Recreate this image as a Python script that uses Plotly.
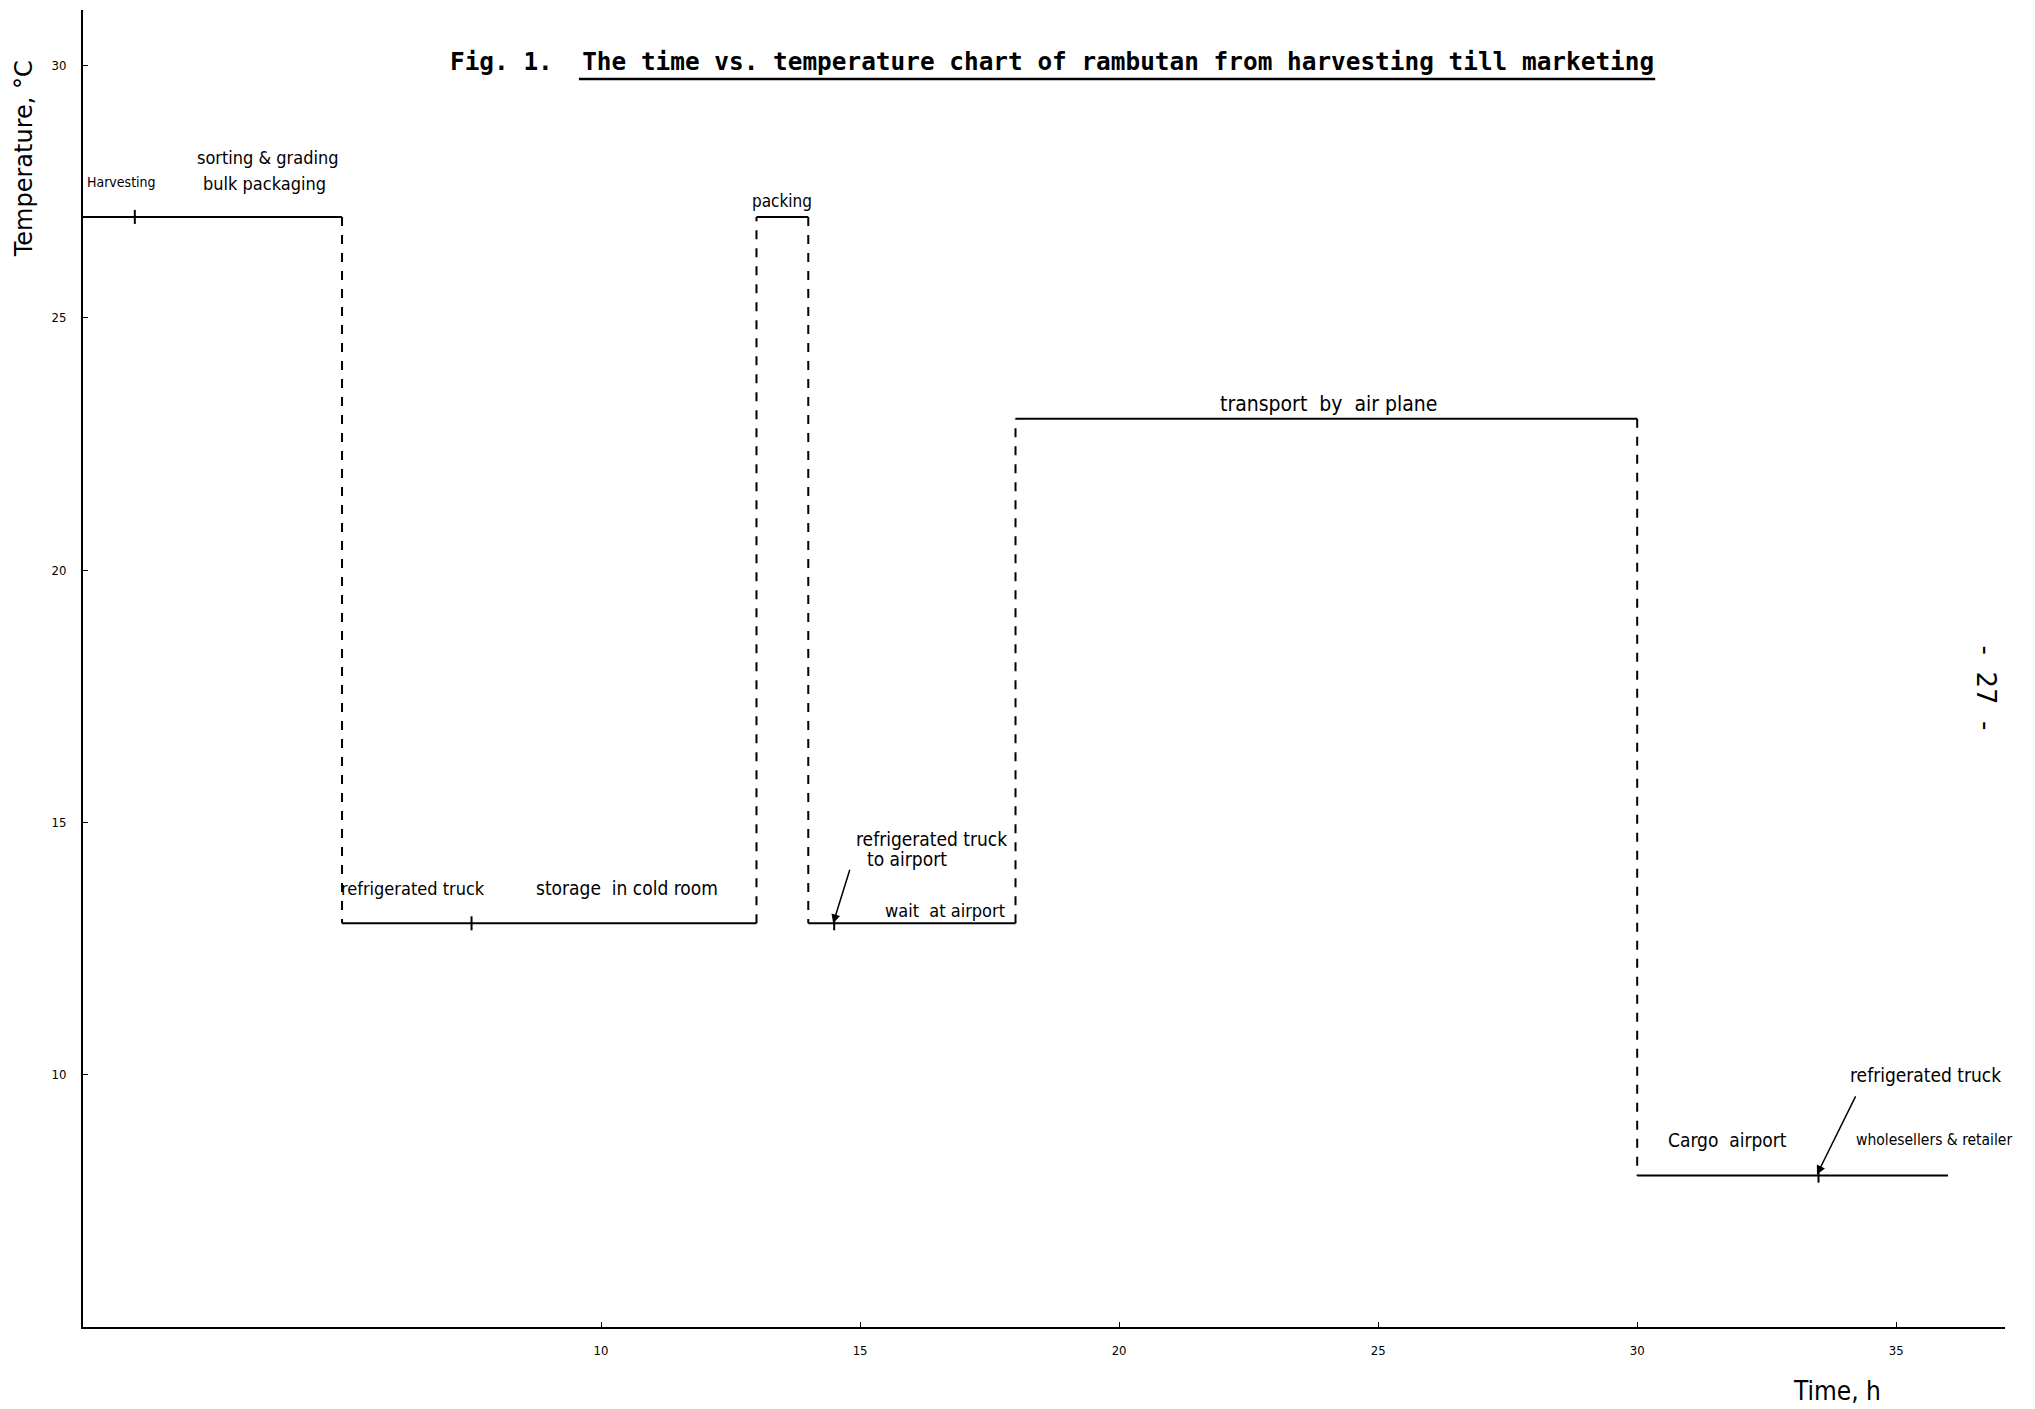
import plotly.graph_objects as go

# Handling stages of rambutan: start/end time (h) and temperature (degC)
stage_start = [0, 5, 13, 14, 18, 30]
stage_end = [5, 13, 14, 18, 30, 36]
stage_temp = [27, 13, 27, 13, 23, 8]

# Sub-stage boundaries marked by small ticks on the temperature line
sub_tick_time = [1, 7.5, 14.5, 33.5]
sub_tick_temp = [27, 13, 13, 8]

x_ticks = [10, 15, 20, 25, 30, 35]
y_ticks = [10, 15, 20, 25, 30]

# Stage labels: (text, x, y, font size)
stage_labels = [
    ("Harvesting", 0.75, 27.69, 14),
    ("sorting & grading", 3.57, 28.18, 18),
    ("bulk packaging", 3.5, 27.67, 18),
    ("packing", 13.5, 27.31, 17),
    ("refrigerated truck", 6.37, 13.7, 18),
    ("storage  in cold room", 10.5, 13.7, 19),
    ("refrigerated truck", 16.37, 14.68, 19),
    ("to airport", 15.9, 14.27, 19),
    ("wait  at airport", 16.64, 13.26, 18),
    ("transport  by  air plane", 24.05, 23.3, 21),
    ("Cargo  airport", 31.74, 8.71, 19),
    ("refrigerated truck", 35.56, 10.0, 19),
    ("wholesellers & retailer", 35.73, 8.71, 15.5),
]

hand_font = "Liberation Sans Narrow, DejaVu Sans Condensed, Liberation Sans, sans-serif"

# Horizontal (solid) and vertical transition (dashed) segments of the step chart
hx, hy, vx, vy = [], [], [], []
for i, (s, e, t) in enumerate(zip(stage_start, stage_end, stage_temp)):
    hx += [s, e, None]
    hy += [t, t, None]
    if i + 1 < len(stage_temp):
        vx += [e, e, None]
        vy += [t, stage_temp[i + 1], None]

fig = go.Figure()
fig.add_trace(go.Scatter(x=hx, y=hy, mode="lines",
                         line=dict(color="black", width=2), showlegend=False))
fig.add_trace(go.Scatter(x=vx, y=vy, mode="lines",
                         line=dict(color="black", width=2, dash="dash"), showlegend=False))
fig.add_trace(go.Scatter(x=sub_tick_time, y=sub_tick_temp, mode="markers",
                         marker=dict(symbol="line-ns", size=10,
                                     line=dict(color="black", width=2)),
                         showlegend=False))

for text, x, y, size in stage_labels:
    fig.add_annotation(x=x, y=y, text=text, showarrow=False,
                       xanchor="center", yanchor="middle",
                       font=dict(family=hand_font, size=size, color="black"))

# Arrows pointing to the short truck legs
fig.add_annotation(x=14.48, y=13.0, ax=14.81, ay=14.09, axref="x", ayref="y",
                   text="", showarrow=True, arrowhead=2, arrowsize=1.2,
                   arrowwidth=1.5, arrowcolor="black")
fig.add_annotation(x=33.47, y=8.02, ax=34.23, ay=9.6, axref="x", ayref="y",
                   text="", showarrow=True, arrowhead=2, arrowsize=1.2,
                   arrowwidth=1.5, arrowcolor="black")

# Title with underline
fig.add_annotation(xref="paper", yref="paper", x=0.504, y=0.961,
                   xanchor="center", yanchor="middle",
                   text="Fig. 1.  The time vs. temperature chart of rambutan from harvesting till marketing",
                   showarrow=False,
                   font=dict(family="DejaVu Sans Mono", size=24.4, color="black", weight="bold"))
fig.add_shape(type="line", xref="paper", yref="paper",
              x0=0.258, x1=0.818, y0=0.9476, y1=0.9476,
              line=dict(color="black", width=2.5))

# Axis titles
fig.add_annotation(xref="paper", yref="paper", x=-0.031, y=0.887,
                   xanchor="center", yanchor="middle",
                   text="Temperature, °C", textangle=-90, showarrow=False,
                   font=dict(family="DejaVu Sans", size=24, color="black"))
fig.add_annotation(xref="paper", yref="paper", x=0.9126, y=-0.0486,
                   xanchor="center", yanchor="middle",
                   text="Time, h", showarrow=False,
                   font=dict(family=hand_font, size=26, color="black"))

# Page number
fig.add_annotation(xref="paper", yref="paper", x=0.990, y=0.485,
                   xanchor="center", yanchor="middle",
                   text="-  27  -", textangle=90, showarrow=False,
                   font=dict(family="DejaVu Sans", size=26, color="black"))

fig.update_xaxes(range=[0, 37.1], tickvals=x_ticks, ticktext=[str(v) for v in x_ticks],
                 showgrid=False, zeroline=False, showline=True, linecolor="black",
                 linewidth=2, ticks="inside", ticklen=5, tickcolor="black",
                 ticklabelstandoff=10,
                 tickfont=dict(family=hand_font, size=13, color="black"))
fig.update_yaxes(range=[5, 31.1], tickvals=y_ticks, ticktext=[str(v) for v in y_ticks],
                 showgrid=False, zeroline=False, showline=True, linecolor="black",
                 linewidth=2, ticks="inside", ticklen=5, tickcolor="black",
                 ticklabelstandoff=12,
                 tickfont=dict(family=hand_font, size=13, color="black"))

fig.update_layout(width=2035, height=1409, plot_bgcolor="white", paper_bgcolor="white",
                  margin=dict(l=83, r=30, t=10, b=82))

fig.write_html("out.html")
